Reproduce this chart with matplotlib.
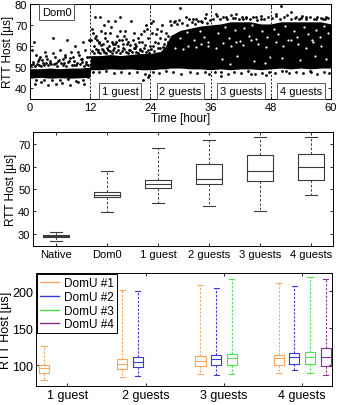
import numpy as np
import matplotlib
matplotlib.use('Agg')
import matplotlib.pyplot as plt
from matplotlib.lines import Line2D

plt.rcParams['font.family'] = ['Liberation Sans', 'DejaVu Sans']

# ---- top panel: Dom0 RTT over time
# dense core of the cloud, read as a band
band_hr = [0, 2, 4, 6, 8, 10, 11.9, 12.1, 14, 16, 18, 20, 22, 24, 26, 27, 28,
           30, 32, 34, 36, 38, 40, 42, 44, 46, 48, 50, 52, 54, 56, 58, 60]
band_lo = [44.8, 45.2, 44.8, 45, 44.8, 45, 45.2, 48.8, 48.8, 49.2, 49, 49.2, 48.8,
           48.8, 49.2, 49.2, 49.6, 49.6, 49.2, 49.2, 48.8, 49.2, 48.8, 49.2, 49.2,
           48.8, 49.2, 49.6, 49.2, 49.6, 49.2, 49.6, 49.6]
band_hi = [49.3, 49.3, 49.6, 49.3, 49.6, 49.6, 50, 55.5, 55.5, 56, 55.5, 56, 56.5,
           56.5, 57.5, 60, 65, 67.5, 68.5, 69.5, 70, 70.5, 71.5, 71.5, 71.5, 70.5,
           70.5, 71.5, 71.5, 71.5, 71.5, 71.5, 70.5]

# sparse points, hours 0-12
dom0_hr = [0.3, 0.8, 1.2, 1.5, 2.0, 2.5, 3.0, 3.4, 4.0, 4.5, 5.0, 5.5, 6.0, 6.5,
           7.0, 7.3, 7.8, 8.2, 8.6, 9.0, 9.4, 9.8, 10.2, 10.6, 11.0, 11.4, 11.7,
           1.0, 2.2, 3.6, 5.2, 6.4, 8.0, 9.6, 10.8, 0.6, 1.8, 3.2, 4.8, 6.8, 8.8,
           10.4, 11.2, 0.2, 0.5, 0.9, 1.3, 1.7, 2.1, 2.4, 2.8, 3.1, 3.5, 3.9, 4.2,
           4.6, 5.1, 5.4, 5.8, 6.2, 6.6, 6.9, 7.2, 7.6, 8.0, 8.4, 8.8, 9.2, 9.5,
           9.9, 10.3, 10.7, 11.1, 11.5, 11.8, 1.1, 2.7, 4.4, 5.9, 7.5, 9.1, 10.5,
           11.6]
dom0_val = [58, 62, 56, 53, 55, 52, 57, 54, 52, 64, 55, 53, 58, 54,
            56, 63, 53, 57, 55, 60, 52, 56, 54, 62, 58, 55, 63,
            42, 43, 41.5, 42, 42.5, 41.8, 43, 42, 51.5, 51, 52, 51.5, 52, 51,
            52.5, 51.5, 51, 52.5, 50.8, 51.6, 54, 50.6, 53.2, 51.2, 55.5, 50.9,
            52.8, 51.3, 56.5, 51.8, 50.7, 53.6, 52.1, 51, 55, 50.8, 52.4, 54.3,
            51.1, 53, 50.9, 57, 51.7, 53.9, 50.8, 52.6, 51.2, 54.8, 44, 43.8,
            44.1, 43.9, 44.2, 43.7, 44, 45.5]

# hours 12-24 (1 guest)
g1_hr = [12.5, 12.8, 13.0, 13.3, 13.6, 14.0, 14.2, 14.5, 14.8, 15.0, 15.3, 15.6,
         16.0, 16.3, 16.6, 17.0, 17.3, 17.6, 18.0, 18.3, 18.6, 19.0, 19.4, 19.8,
         20.2, 20.6, 21.0, 21.5, 22.0, 22.4, 22.8, 23.2, 23.6, 23.9, 22.5, 23.5,
         13.8, 15.8, 17.8, 19.6, 21.2, 12.9, 14.6, 16.9, 18.8, 20.9,
         12.3, 12.7, 13.1, 13.5, 13.9, 14.3, 14.7, 15.1, 15.5, 15.9, 16.3, 16.7,
         17.1, 17.5, 17.9, 18.3, 18.7, 19.1, 19.5, 19.9, 20.3, 20.7, 21.1, 21.5,
         21.9, 22.3, 22.7, 23.1, 23.5, 23.8, 12.6, 13.8, 15.2, 16.8, 18.2, 19.7,
         21.3, 22.9, 23.7, 12.2, 12.4, 13.2, 13.7, 14.1, 14.9, 15.4, 16.1, 16.5,
         17.2, 17.9, 18.5, 19.2, 20.0, 20.8, 21.7, 22.2, 23.0, 23.4]
g1_val = [66, 60, 74, 63, 58, 74, 67, 61, 70, 64, 59, 72,
          66, 62, 58, 72, 65, 60, 74, 63, 59, 67, 61, 58,
          72, 63, 59, 64, 58, 62, 67, 70, 64, 60, 44, 45.5,
          62, 60, 63, 62, 60, 64, 58, 61, 65, 61,
          57.5, 56.8, 58.4, 57, 56.6, 58.8, 57.3, 56.9, 58.1, 57.6, 56.7, 59,
          57.2, 58.3, 56.8, 57.9, 58.6, 57.1, 56.9, 58.2, 57.4, 58.9, 57, 56.8,
          58.5, 57.6, 59.2, 57.3, 58, 56.9, 47.8, 47.5, 48, 47.3, 47.9, 47.4,
          47.8, 46.9, 46.5, 63, 68, 65, 61.5, 60.4, 66, 62.5, 69, 60.8,
          62, 67, 61.2, 63.5, 60.3, 66, 61.8, 65.5, 60.6, 68]

# hours 24-36 (2 guests)
g2_hr = [24.3, 24.6, 25.0, 25.3, 25.6, 26.0, 26.4, 26.8, 27.2, 27.6,
         28, 30, 31, 33, 34, 35, 29, 32.5,
         24.1, 24.5, 24.8, 25.1, 25.5, 25.9, 26.2, 26.6, 26.9, 24.2,
         27.5, 28.2, 28.7, 29.3, 29.8, 30.4, 31.2, 31.7, 32.3, 32.9, 33.5, 34.2,
         34.8, 35.3, 35.8, 24.5, 25.8, 27.1, 28.6, 30.2, 31.8, 33.3, 34.9, 35.6]
g2_val = [66, 72, 62, 68, 59, 64, 70, 61, 66, 62,
          72, 78, 74, 73, 72, 75, 72, 73,
          58.5, 60.2, 57.6, 65.5, 61.3, 58.9, 67, 59.7, 63.5, 71,
          65, 70, 71.5, 70.4, 72.5, 71, 70.2, 72.8, 71.2, 70.5, 72, 71.4,
          73.2, 70.9, 72.3, 47.8, 47.2, 48, 47.5, 47, 47.9, 47.3, 47.7, 46.8]

# hours 36-60 (3 and 4 guests)
g34_hr = [37, 39, 41, 43, 45, 46, 44, 38, 47, 40.5, 42.5,
          49, 50, 52, 53, 55, 57, 59, 51, 56, 54, 58.5,
          36.4, 37.2, 37.8, 38.5, 39.3, 40.1, 40.8, 41.6, 42.3, 43.1, 43.8, 44.5,
          45.2, 46.0, 46.7, 47.4, 48.3, 49.1, 49.8, 50.6, 51.3, 52.1, 52.8, 53.6,
          54.3, 55.1, 55.8, 56.6, 57.3, 58.1, 58.8, 59.5,
          36.8, 38.1, 39.4, 40.7, 42.0, 43.4, 44.8, 46.2, 47.6, 48.9, 50.3, 51.7,
          53.1, 54.5, 55.9, 57.2, 58.6, 59.7]
g34_val = [75, 74, 75, 74, 74, 73, 47, 46, 46.5, 73.5, 73,
           75, 79, 76, 74, 74, 73, 74, 48, 47.5, 73.5, 73,
           73, 74.2, 72.6, 73.8, 72.9, 74.5, 73.1, 72.7, 74, 73.3, 72.8, 73.9,
           72.5, 74.3, 72.9, 73.6, 73.1, 74.1, 72.7, 73.7, 74.6, 72.9, 73.5, 72.6,
           74.2, 73, 73.8, 72.7, 74, 73.2, 72.6, 73.5,
           47.5, 47.9, 46.8, 47.6, 47.2, 48, 46.6, 47.4, 47.9, 47.3, 48, 47.1,
           47.8, 47.4, 48.1, 46.9, 47.7, 47.3]

# white gaps inside the dense cloud
gap_hr = [29, 30.5, 31.5, 33, 34, 35.5, 37, 38.5, 40, 41, 42.5, 44, 45.5, 47,
          49, 50.5, 52, 53.5, 55, 56.5, 58,
          37.5, 38.8, 39.6, 40.9, 41.9, 42.7, 43.6, 44.3, 45.1, 46.3, 47.2, 48.6,
          49.4, 50.9, 51.5, 52.6, 53.3, 54.7, 55.4, 56.2, 57.0, 57.9, 58.7, 59.4,
          30.0, 31.3, 32.6, 33.9, 34.6, 35.4, 38.2, 41.2, 44.6, 47.8, 50.2, 53.9,
          56.8, 59.0, 39.9, 46.8]
gap_val = [59, 58.5, 60, 59.5, 61, 60, 59, 61.5, 60, 62, 60.5, 63, 61, 59.5,
           62, 60, 63, 61, 59, 62, 60,
           66, 69, 64, 67.5, 62.5, 68.5, 65, 70, 63.5, 67, 64.5, 68,
           65.5, 69.5, 63, 67, 64.5, 69, 65.8, 62.8, 67.6, 64.2, 69.3, 66,
           64, 66.5, 63, 67, 64.5, 62, 54, 55.5, 53, 55, 54.5, 53.5,
           55.5, 54, 51.5, 52]

phase_lines = [12, 24, 36, 48]
phase_labels = ['1 guest', '2 guests', '3 guests', '4 guests']

# ---- middle panel: box stats for Dom0 RTT
mid_labels = ['Native', 'Dom0', '1 guest', '2 guests', '3 guests', '4 guests']
mid_lo = [26.7, 39.6, 43.8, 42.3, 40.4, 47.3]
mid_q1 = [28.4, 46.3, 50.3, 52.2, 53.7, 54.3]
mid_med = [29.0, 47.5, 52.2, 54.4, 58.3, 59.9]
mid_q3 = [29.6, 48.8, 54.1, 61.4, 65.3, 65.6]
mid_hi = [31.0, 57.9, 68.2, 71.9, 73.4, 73.4]

# ---- bottom panel: DomU RTT per guest count
bot_groups = ['1 guest', '2 guests', '3 guests', '4 guests']
domu_names = ['DomU #1', 'DomU #2', 'DomU #3', 'DomU #4']
domu_colors = ['#f5a85e', '#3a3ad8', '#4ee04e', '#8e2e8e']
bot_group_idx = [[0, 1, 2, 3], [1, 2, 3], [2, 3], [3]]
bot_lo = [[80, 84, 88, 90], [85.6, 86.5, 93], [88, 89], [86.5]]
bot_q1 = [[90, 95.5, 99, 101], [98, 100, 102], [101, 102], [99]]
bot_med = [[96.4, 102, 105.4, 110], [104.5, 108, 111], [110, 111], [111]]
bot_q3 = [[101, 109, 112.6, 114.4], [111, 113.5, 117], [115, 118], [123]]
bot_hi = [[125.7, 202, 209, 212], [201, 205, 207], [217, 219], [217]]

fig = plt.figure(figsize=(3.38, 4.06), dpi=100)
ax1 = fig.add_axes([0.089, 0.754, 0.890, 0.234])
ax2 = fig.add_axes([0.098, 0.392, 0.887, 0.280])
ax3 = fig.add_axes([0.107, 0.047, 0.875, 0.278])

for ax in (ax1, ax2, ax3):
    ax.tick_params(direction='in', top=True, right=True, length=2.5,
                   width=0.6, labelsize=8, pad=2)
    for s in ax.spines.values():
        s.set_linewidth(0.7)

# top
ax1.fill_between(band_hr, band_lo, band_hi, color='black', lw=0)
for hr, val in ((dom0_hr, dom0_val), (g1_hr, g1_val), (g2_hr, g2_val),
                (g34_hr, g34_val)):
    ax1.scatter(hr, val, s=4, c='black', lw=0)
ax1.scatter(gap_hr, gap_val, s=2.5, c='white', lw=0)
for x in phase_lines:
    ax1.axvline(x, color='black', ls=(0, (2.5, 2)), lw=0.6)
box = dict(boxstyle='square,pad=0.25', fc='white', ec='#555555', lw=0.7)
for x0, lab in zip(phase_lines, phase_labels):
    ax1.text(x0 + 6, 38.8, lab, ha='center', va='center', fontsize=8, bbox=box)
ax1.text(5.3, 76.2, 'Dom0', ha='center', va='center', fontsize=8, bbox=box)
ax1.set_xlim(0, 60)
ax1.set_ylim(35, 80)
ax1.set_xticks([0, 12, 24, 36, 48, 60])
ax1.set_yticks([40, 50, 60, 70, 80])
ax1.set_xlabel('Time [hour]', fontsize=8.5, labelpad=0)
ax1.set_ylabel('RTT Host [µs]', fontsize=8.5, labelpad=1)

# middle
stats = []
for i in range(len(mid_labels)):
    stats.append(dict(whislo=mid_lo[i], q1=mid_q1[i], med=mid_med[i],
                      q3=mid_q3[i], whishi=mid_hi[i], fliers=[]))
gray = '#3a3a3a'
ax2.bxp(stats, positions=range(1, 7), widths=0.5, showfliers=False,
        boxprops=dict(color=gray, lw=0.8),
        medianprops=dict(color=gray, lw=0.8),
        whiskerprops=dict(color=gray, lw=0.7, ls=(0, (2.5, 2))),
        capprops=dict(color=gray, lw=0.8))
ax2.set_xticks(range(1, 7))
ax2.set_xticklabels(mid_labels)
ax2.set_xlim(0.55, 6.43)
ax2.set_ylim(24.6, 75.5)
ax2.set_yticks([30, 40, 50, 60, 70])
ax2.set_ylabel('RTT Host [µs]', fontsize=8.5, labelpad=1)

# bottom
offsets = [-0.3, -0.1, 0.1, 0.3]
for k in range(4):
    st = []
    pos = []
    for j, g in enumerate(bot_group_idx[k]):
        st.append(dict(whislo=bot_lo[k][j], q1=bot_q1[k][j], med=bot_med[k][j],
                       q3=bot_q3[k][j], whishi=bot_hi[k][j], fliers=[]))
        pos.append(g + 1 + offsets[k])
    c = domu_colors[k]
    ax3.bxp(st, positions=pos, widths=0.13, showfliers=False,
            boxprops=dict(color=c, lw=0.8),
            medianprops=dict(color=c, lw=0.8),
            whiskerprops=dict(color=c, lw=0.8, ls=(0, (2, 1.5))),
            capprops=dict(color=c, lw=0.8))
ax3.set_xticks(range(1, 5))
ax3.set_xticklabels(bot_groups)
ax3.set_xlim(0.6, 4.38)
ax3.set_ylim(72, 225)
ax3.set_yticks([100, 150, 200])
ax3.set_ylabel('RTT Host [µs]', fontsize=9, labelpad=0)
ax3.tick_params(labelsize=9)
handles = [Line2D([], [], color=c, lw=1) for c in domu_colors]
leg = ax3.legend(handles, domu_names, loc='upper left', fontsize=8.5,
                 fancybox=False, framealpha=1, edgecolor='black',
                 borderaxespad=0.1, handlelength=1.6, handletextpad=0.4,
                 labelspacing=0.15, borderpad=0.25)
leg.get_frame().set_linewidth(0.7)

fig.savefig('out.png', dpi=100)
